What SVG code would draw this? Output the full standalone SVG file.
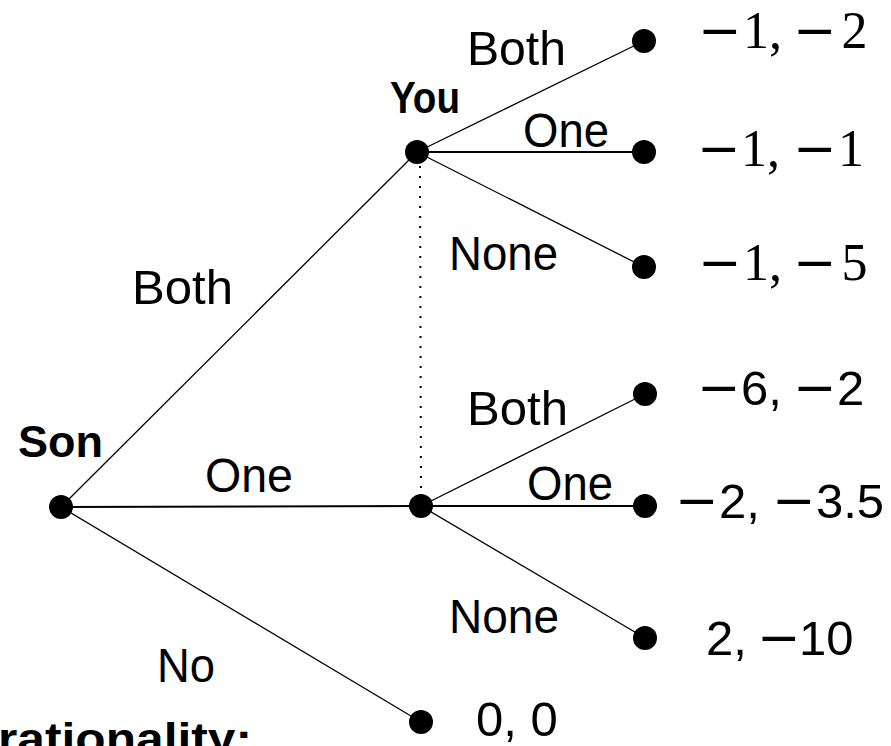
<svg xmlns="http://www.w3.org/2000/svg" width="891" height="746" viewBox="0 0 891 746">
  <style>
    .edge { stroke: #000; stroke-width: 1.3; fill: none; }
    .edge.h { stroke-width: 2; }
    .info { stroke: #000; stroke-width: 2; stroke-dasharray: 2 8; stroke-linecap: butt; fill: none; }
    .dot { fill: #000; }
    .lbl { font-family: "Liberation Sans", Arial, sans-serif; font-size: 48px; fill: #000; }
    .player { font-family: "Liberation Sans", Arial, sans-serif; font-size: 44px; font-weight: bold; fill: #000; }
    .pay { font-family: "Liberation Serif", "Times New Roman", serif; font-size: 52px; fill: #000; }
    .pays { font-family: "Liberation Sans", Arial, sans-serif; font-size: 49px; fill: #000; }
    .m { font-family: "DejaVu Sans", sans-serif; font-size: 52px; }
  </style>

  <!-- branches of the game tree -->
  <g id="connectors">
    <line class="edge" x1="61" y1="507" x2="417" y2="152"/>
    <line class="edge h" x1="61" y1="507" x2="421" y2="506"/>
    <line class="edge" x1="61" y1="507" x2="421" y2="722"/>
    <line class="edge" x1="417" y1="152" x2="644" y2="41"/>
    <line class="edge h" x1="417" y1="152" x2="644" y2="152"/>
    <line class="edge" x1="417" y1="152" x2="644" y2="267"/>
    <line class="edge" x1="421" y1="506" x2="645" y2="394"/>
    <line class="edge h" x1="421" y1="506" x2="645" y2="506"/>
    <line class="edge" x1="421" y1="506" x2="645" y2="638"/>
    <!-- information set -->
    <line class="info" x1="420" y1="166" x2="421" y2="498"/>
  </g>

  <!-- decision nodes -->
  <g id="son">
    <circle class="dot" cx="61" cy="507" r="12"/>
    <text class="player" x="18" y="457" textLength="85" lengthAdjust="spacingAndGlyphs">Son</text>
  </g>
  <g id="you-top">
    <circle class="dot" cx="417" cy="152" r="12"/>
    <text class="player" x="390" y="113" textLength="70" lengthAdjust="spacingAndGlyphs">You</text>
  </g>
  <g id="you-bottom">
    <circle class="dot" cx="421" cy="506" r="12"/>
  </g>

  <!-- action labels -->
  <g id="labels">
    <text class="lbl" x="132" y="304" textLength="101" lengthAdjust="spacingAndGlyphs">Both</text>
    <text class="lbl" x="205" y="492" textLength="88" lengthAdjust="spacingAndGlyphs">One</text>
    <text class="lbl" x="157" y="682" textLength="58" lengthAdjust="spacingAndGlyphs">No</text>
    <text class="lbl" x="467" y="65" textLength="99" lengthAdjust="spacingAndGlyphs">Both</text>
    <text class="lbl" x="523" y="147" textLength="86" lengthAdjust="spacingAndGlyphs">One</text>
    <text class="lbl" x="449" y="270" textLength="109" lengthAdjust="spacingAndGlyphs">None</text>
    <text class="lbl" x="467" y="425" textLength="101" lengthAdjust="spacingAndGlyphs">Both</text>
    <text class="lbl" x="527" y="500" textLength="86" lengthAdjust="spacingAndGlyphs">One</text>
    <text class="lbl" x="449" y="633" textLength="110" lengthAdjust="spacingAndGlyphs">None</text>
  </g>

  <!-- terminal nodes with payoffs; minus signs use a font with a long bar -->
  <g id="t1">
    <circle class="dot" cx="644" cy="41" r="12"/>
    <text class="pay" y="48"><tspan class="m" x="698">−</tspan><tspan x="743">1, </tspan><tspan class="m" x="793">−</tspan><tspan x="841.5">2</tspan></text>
  </g>
  <g id="t2">
    <circle class="dot" cx="644" cy="152" r="12"/>
    <text class="pay" y="166"><tspan class="m" x="697">−</tspan><tspan x="741">1, </tspan><tspan class="m" x="793">−</tspan><tspan x="838">1</tspan></text>
  </g>
  <g id="t3">
    <circle class="dot" cx="644" cy="267" r="12"/>
    <text class="pay" y="280"><tspan class="m" x="698">−</tspan><tspan x="743">1, </tspan><tspan class="m" x="793">−</tspan><tspan x="841.5">5</tspan></text>
  </g>
  <g id="t4">
    <circle class="dot" cx="645" cy="394" r="12"/>
    <text class="pays" y="405"><tspan class="m" x="697">−</tspan><tspan x="741">6, </tspan><tspan class="m" x="793">−</tspan><tspan x="837">2</tspan></text>
  </g>
  <g id="t5">
    <circle class="dot" cx="645" cy="506" r="12"/>
    <text class="pays" y="518"><tspan class="m" x="675">−</tspan><tspan x="719">2, </tspan><tspan class="m" x="772">−</tspan><tspan x="816">3.5</tspan></text>
  </g>
  <g id="t6">
    <circle class="dot" cx="645" cy="638" r="12"/>
    <text class="pays" y="655"><tspan x="706">2, </tspan><tspan class="m" x="757">−</tspan><tspan x="799">10</tspan></text>
  </g>
  <g id="t7">
    <circle class="dot" cx="421" cy="722" r="12"/>
    <text class="pays" x="476" y="736">0, 0</text>
  </g>

  <!-- caption, clipped at the lower edge -->
  <text class="player" x="-2" y="754" textLength="254" lengthAdjust="spacingAndGlyphs">rationality:</text>
</svg>
